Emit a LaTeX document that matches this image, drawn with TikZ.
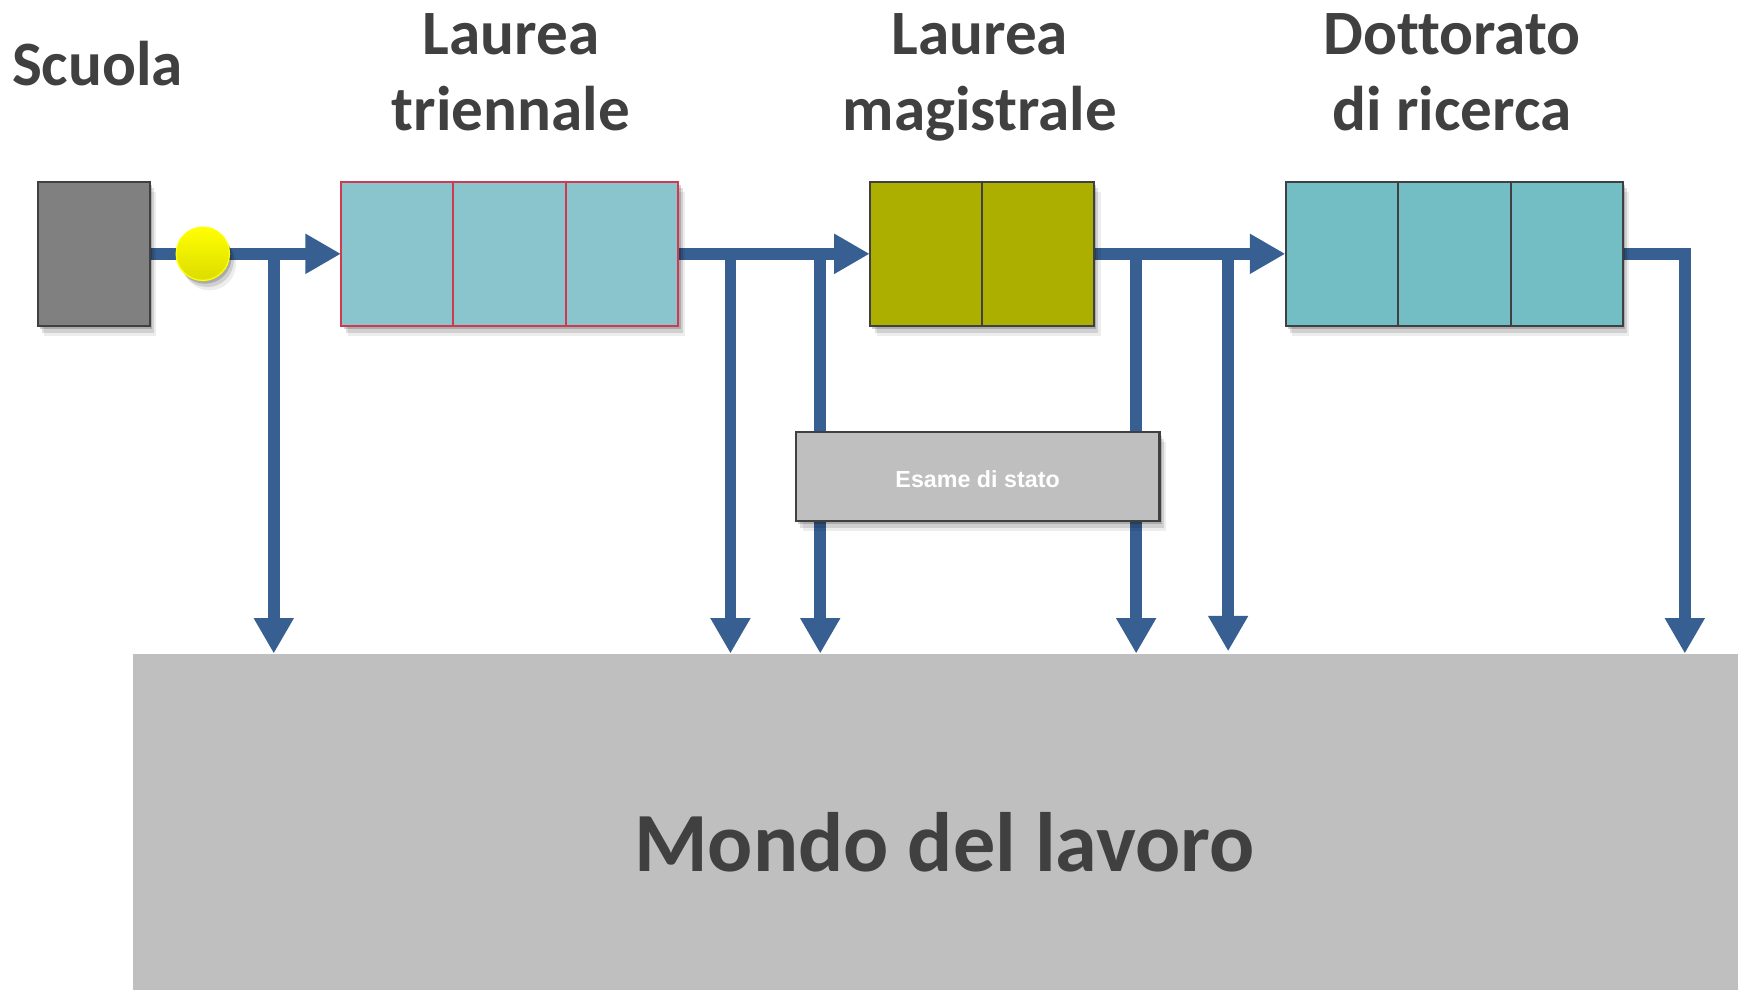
\documentclass[tikz,border=0pt]{standalone}
\usepackage{fontspec}
\setmainfont{Carlito}[Ligatures=NoCommon]
\newfontfamily\arialfont{Liberation Sans}
\usetikzlibrary{arrows.meta,shadows,calc}
\definecolor{arrowblue}{HTML}{375F91}
\definecolor{textgray}{HTML}{404040}
\definecolor{scuolafill}{HTML}{808080}
\definecolor{trifill}{HTML}{8AC4CC}
\definecolor{triborder}{HTML}{CF3A50}
\definecolor{magfill}{HTML}{ADAF00}
\definecolor{dotfill}{HTML}{72BEC4}
\definecolor{greyfill}{HTML}{BFBFBF}
\definecolor{yellowtop}{HTML}{FFFF00}
\definecolor{yellowbot}{HTML}{DCDC00}
\tikzset{
  softshadow/.style={
    drop shadow={shadow xshift=1pt,shadow yshift=-1.5pt,opacity=0.18,fill=black},
    drop shadow={shadow xshift=2pt,shadow yshift=-3pt,opacity=0.12,fill=black},
    drop shadow={shadow xshift=3pt,shadow yshift=-4.5pt,opacity=0.07,fill=black}},
  head/.style={font=\fontsize{28.5pt}{34pt}\bfseries\selectfont, text=textgray, inner sep=0pt, align=center},
  stagebox/.style={draw=textgray, line width=1pt, minimum height=65pt, inner sep=0pt, softshadow},
  arr/.style={draw=arrowblue, line width=5.3pt, -{Triangle[width=17pt,length=16pt]}},
}
\begin{document}
\begin{tikzpicture}[x=0.5pt,y=-0.5pt]
\useasboundingbox (0,0) rectangle (1568,893);

% headings
\node[head, anchor=base] (hs) at (88,77) {Scuola};
\node[head, anchor=north] (ht) at (461,12) {Laurea\\triennale};
\node[head, anchor=north] (hm) at (884,12) {Laurea\\magistrale};
\node[head, anchor=north] (hd) at (1310,12) {Dottorato\\di ricerca};

% world of work
\node[fill=greyfill, minimum width=732pt, minimum height=170pt, inner sep=0pt,
      font=\fontsize{38pt}{44pt}\bfseries\selectfont, text=textgray] (w) at (852,760) {Mondo del lavoro};

% branch coordinates
\coordinate (b1) at (247,229);
\coordinate (b2) at (659,229);
\coordinate (b3) at (740,229);
\coordinate (b4) at (1025,229);
\coordinate (b5) at (1108,229);
\coordinate (b6) at (1520,229);

% stage boxes (positions)
\path (84.5,229) node[minimum width=50.5pt, minimum height=65pt, inner sep=0pt] (s) {};
\path (460,229) node[minimum width=152pt, minimum height=65pt, inner sep=0pt] (t) {};
\path (886,229) node[minimum width=101pt, minimum height=65pt, inner sep=0pt] (m) {};
\path (1312,229) node[minimum width=152pt, minimum height=65pt, inner sep=0pt] (d) {};

% vertical branches
\draw[arr] (b1) -- (b1 |- w.north);
\draw[arr] (b2) -- (b2 |- w.north);
\draw[arr] (b3) -- (b3 |- w.north);
\draw[arr] (b4) -- (b4 |- w.north);
\draw[arr] (b5) -- ($(b5 |- w.north)+(0,-2)$);

% horizontal flow
\draw[arr] (s.east) -- (t.west);
\draw[arr] (t.east) -- (m.west);
\draw[arr] (m.east) -- (d.west);
\draw[arr] (d.east) -| (b6 |- w.north);

% boxes drawn on top
\node[stagebox, fill=scuolafill, minimum width=50.5pt] at (s) {};
\node[stagebox, fill=trifill, draw=triborder, line width=0.9pt, minimum width=152pt] (t2) at (t) {};
\draw[triborder, line width=0.9pt] ($(t2.north west)!1/3!(t2.north east)$) -- ($(t2.south west)!1/3!(t2.south east)$);
\draw[triborder, line width=0.9pt] ($(t2.north west)!2/3!(t2.north east)$) -- ($(t2.south west)!2/3!(t2.south east)$);
\node[stagebox, fill=magfill, minimum width=101pt] (m2) at (m) {};
\draw[textgray, line width=1pt] (m2.north) -- (m2.south);
\node[stagebox, fill=dotfill, minimum width=152pt] (d2) at (d) {};
\draw[textgray, line width=1pt] ($(d2.north west)!1/3!(d2.north east)$) -- ($(d2.south west)!1/3!(d2.south east)$);
\draw[textgray, line width=1pt] ($(d2.north west)!2/3!(d2.north east)$) -- ($(d2.south west)!2/3!(d2.south east)$);

% yellow dot
\node[circle, minimum size=24pt, inner sep=0pt, top color=yellowtop, bottom color=yellowbot,
      draw=yellowtop, line width=0.6pt, softshadow] (y) at (183,229) {};

% esame di stato
\node[draw=textgray, line width=1pt, fill=greyfill, minimum width=164pt, minimum height=40pt, inner sep=0pt,
      text height=9.6pt, text depth=0pt,
      softshadow, text=white, font=\arialfont\fontsize{10.5pt}{12pt}\bfseries\selectfont] (e) at (882,430) {Esame di stato};
\end{tikzpicture}
\end{document}
